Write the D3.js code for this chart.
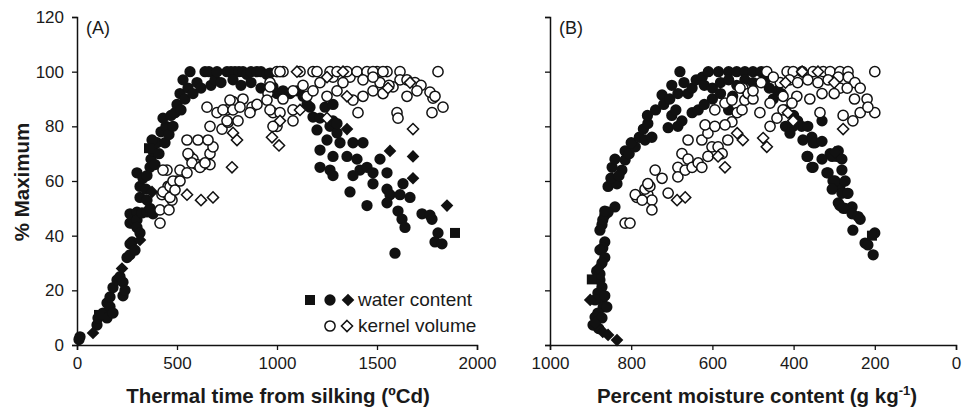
<!DOCTYPE html>
<html><head><meta charset="utf-8">
<script src="https://cdn.jsdelivr.net/npm/d3@7"></script>
<style>
html,body{margin:0;padding:0;background:#fff;}
svg{display:block;font-family:"Liberation Sans",Arial,sans-serif;}
</style></head>
<body><svg id="chart" width="965" height="408"></svg>
<script>
// ---------- tick labels ----------
const yTicks = [0, 20, 40, 60, 80, 100, 120];
const thermalTicks = [0, 500, 1000, 1500, 2000];
const moistureTicks = [1000, 800, 600, 400, 200, 0];
const panelLabels = ["(A)", "(B)"];
const legendLabels = ["water content", "kernel volume"];

// ---------- Panel A: thermal time (ºCd) vs % maximum ----------
const aWaterSquare = [[110,11],[360,72],[1890,41]];
const aWaterCircle = [
[15,3],[10,2],[100,7.3],[105,9.9],[130,11.7],[150,9.9],[150,15.4],[165,14],[165,17.6],[180,11.7],[180,21],[200,23.8],[215,25],[230,23],[230,18],[240,20],[250,32],[265,33],[265,37],[275,37.7],[290,34.7],[275,44.6],[265,44.6],[280,45.7],[265,48],[300,48.6],[300,45.7],[300,43],[315,41],[325,48.3],[350,48.7],[365,50],[380,48],[315,54],[350,53],
[300,63],[315,58],[330,61],[345,57],[365,65],[350,62],[370,68],[380,71],[390,66],[400,74],[410,70],[375,75],[420,78],[440,74],[445,80],[460,77],[430,83],[470,84],[480,80],[490,85],[500,88],[515,92],[520,86],[540,90],[555,94],[530,97],[565,100],[580,92],[600,96],[620,94],[640,100],[660,100],[670,95],[690,97],[700,100],[720,96],[750,100],[770,100],[790,100],[810,100],[830,100],[850,99],[870,100],[900,100],[920,100],[950,99],[780,97],[820,95],[870,96],[920,94],[960,93],[1000,92],
[965,99.5],[980,94.4],[1030,93],[1065,92],[1100,93],[1130,91],[1165,87],[1180,83.4],[1200,78.7],[1265,80],[1280,82],[1300,77.6],[1250,75],[1315,74],[1215,71.3],[1380,74],[1430,74],[1280,69],[1215,65],[1265,64],[1280,62],[1350,69],[1400,68],[1415,64],[1450,65],[1515,68],[1380,62],[1480,63],[1550,63],[1480,59],[1365,56],[1550,57],[1565,55],[1615,55],[1630,59],[1665,54],[1450,51],[1550,52],[1605,49],[1625,46],[1640,43],[1725,48],[1765,47.5],[1775,46],[1805,41],[1790,37.7],[1825,37],[1590,33.6],[1240,87],[1280,88],[1215,83],[1300,81],[1150,88]
];
const aWaterDiamond = [[80,4.4],[225,28],[315,38.4],[375,56],[1350,79],[1565,71],[1680,69],[1680,61],[1850,51]];
const aVolumeCircle = [
[415,44.6],[415,49.4],[460,49.4],[475,53],[425,55],[455,55],[455,58],[500,60],[430,56],[465,54],[465,58],[450,64],[430,64],[480,60],[490,56.7],[515,60],[515,64],[550,63],[565,69],[580,68],[600,66],[630,66],[665,66],[555,70],[575,66.6],[615,65],[640,66.6],[665,70],[680,72.5],[550,75],[605,75],[655,75],[665,80],[725,79],[755,81.5],[750,86],[780,89],[805,82],[830,90],[875,87],[900,88],[965,96],[955,92],[980,85],[1000,80],[650,87],[700,85],[730,86],[750,82],[765,89.6],[780,86],[815,87],[865,85],[950,89.6],[1000,100],[1030,100],[965,94.4],[980,80],[965,86],[1080,82],[1150,91],[1215,96],[1280,98],[1365,98],[1180,100],[1265,100],[1350,100],[1400,100],[1450,100],[1500,100],[1550,100],[1615,100],[1615,97],[1690,96],[1720,95],[1780,90.3],[1805,100],[1830,87],[1775,85],[1600,85],[1605,83],[1405,85],[1380,89.6],[1430,91],[1480,93],[1530,92],[1580,94.4],[1650,91],[1515,96],[1560,95],[1015,100],[1115,100],[1200,100],[1300,100],[1480,100],[1530,100],[1765,92.5],[1790,91],[1030,90],[1080,93],[1130,95],[1180,93],[1250,91],[1300,93],[1015,85],[1080,86],[1330,96],[1430,97],[1480,98],[1650,97],[1700,93]
];
const aVolumeDiamond = [[550,55],[620,53],[680,54],[775,65],[780,77.6],[800,75],[975,76],[1010,73],[1115,86],[1250,83],[1100,100],[1330,100],[1250,98],[1555,94],[1350,91],[1680,79],[1665,96],[1015,82]];

// ---------- Panel B: moisture content (g/kg) vs % maximum ----------
const bWaterSquare = [[897,24],[207,40]];
const bWaterCircle = [
[877,23.8],[872,21.2],[882,19],[872,16.5],[889,16.5],[869,13.9],[860,13.9],[882,11.7],[889,10.2],[872,9.9],[894,7.3],[880,6],[865,18],[885,27],[877,26],
[865,37.7],[870,35.5],[877,34.8],[865,32],[872,30],
[840,50.5],[857,48.6],[865,47.5],[870,45.7],[872,44],[877,42],[865,49],
[857,58],[835,59],[850,61],[847,65],[823,64],[830,62],[840,68],[815,67.7],[815,71],[805,70],[790,72.5],[800,74],[780,76],[766,75],[749,76],[770,79],[759,81],[760,84],[740,86],[724,91.5],[720,88],[709,79.5],[685,80],[675,82],[700,84],[690,86],[650,85],[635,86],[705,90],[685,92],[660,92],[700,95],[670,96],[650,94],[640,97],[680,100],[625,98],[620,95],[600,94],[610,100],[585,100],[580,96],[560,100],[540,100],[520,100],[500,100],[480,100],[560,97],[540,95],[520,97],[500,96],[470,97],[460,94],[440,93],[600,90],[620,88],[580,92],[550,91],[560,86],[450,90],[430,92],
[420,86],[400,84],[390,82],[380,80],[420,80],[401,80],[409,77.5],[377,75],[352,74],[367,69],[352,65],[310,70],[293,69],[318,63],[303,60],[286,58],[268,55.5],[330,82],[365,80],[355,76],[347,74],[330,74.5],[365,69],[355,65],[330,68],[305,69],[290,71],[281,68],[315,63],[298,60],[281,64],[273,60],[305,57],[281,55.5],[266,55.5],[290,52],[273,50],[256,50.5],[286,51],[278,50],[256,48],[241,47],[236,46],[254,42],[224,37.3],[217,36.6],[200,41],[204,33]
];
const bWaterDiamond = [[882,28],[901,16.5],[889,8],[870,4.8],[857,3.7],[835,1.8],[298,70.6]];
const bVolumeCircle = [
[815,44.6],[803,44.6],[786,54],[759,55],[749,53],[749,49.4],[709,55.6],[790,55],[766,57],[754,58],[773,53],[741,64],[724,61],[759,59],[685,65],[675,70],[660,68],[685,61.5],[667,64],[650,65],[635,66.6],[626,65],[660,75],[626,75],[611,77.5],[601,72.5],[618,80.5],[594,80],[611,69],[586,72.5],[562,75],[576,70],[594,86],[569,88.5],[552,89.6],[539,85],[527,86],[520,89.6],[525,94],[512,92],[552,81.6],[569,80.5],
[466,100],[416,100],[401,100],[379,100],[352,100],[327,100],[310,100],[286,100],[266,100],[200,100],[433,96],[410,97],[390,96],[365,97],[340,96],[315,97],[290,98],[265,98],[249,96],[286,94],[268,94],[236,94],[219,90],[278,84],[254,82],[236,85],[200,85],[217,87],[335,85],[500,90],[458,88.5],[426,91],[392,91],[360,90],[532,94],[500,93],[483,85],[458,80],[426,86],[404,88.5],[441,83],[480,96],[450,98],[300,92],[330,92],[250,90]
];
const bVolumeDiamond = [[687,53],[667,54],[586,69],[569,65],[539,77.5],[525,75],[475,75.7],[466,72.5],[414,85],[401,82],[278,79],[379,100],[340,100],[300,96],[420,96]];

// ---------- drawing ----------
const svg = d3.select("#chart");
const INK = "#111";
const diamondType = { draw(ctx, size) { const r = Math.sqrt(size / 2);
  ctx.moveTo(0, -r); ctx.lineTo(r, 0); ctx.lineTo(0, r); ctx.lineTo(-r, 0); ctx.closePath(); } };
const styles = {
  wSquare: { type: d3.symbolSquare, size: 100, fill: INK, stroke: "none", sw: 0 },
  wCircle: { type: d3.symbolCircle, size: 100, fill: INK, stroke: "none", sw: 0 },
  wDiamond: { type: diamondType, size: 80, fill: INK, stroke: "none", sw: 0 },
  vCircle: { type: d3.symbolCircle, size: 82, fill: "#fff", stroke: INK, sw: 1.5 },
  vDiamond: { type: diamondType, size: 62, fill: "#fff", stroke: INK, sw: 1.5 }
};

const y = d3.scaleLinear().domain([0, 120]).range([345, 17]);

function panel(xScale, xTicks, showYLabels, label, series) {
  const g = svg.append("g");
  const yAxis = d3.axisLeft(y).tickValues(yTicks).tickSize(5).tickPadding(8)
    .tickFormat(showYLabels ? d3.format("d") : () => "");
  const xAxis = d3.axisBottom(xScale).tickValues(xTicks).tickSize(5).tickPadding(7).tickFormat(d3.format("d"));
  const gy = g.append("g").attr("transform", `translate(${xScale.range()[0]},0)`).call(yAxis);
  const gx = g.append("g").attr("transform", `translate(0,${y(0)})`).call(xAxis);
  [gx, gy].forEach(a => {
    a.select(".domain").attr("stroke", INK).attr("stroke-width", 1.5);
    a.selectAll(".tick line").attr("stroke", INK).attr("stroke-width", 1.3);
    a.selectAll(".tick text").attr("fill", "#1a1a1a").style("font-size", "17px")
      .style("font-family", '"Liberation Sans",Arial,sans-serif');
  });
  g.append("text").attr("x", xScale.range()[0] + 9).attr("y", 34).text(label)
    .attr("fill", "#1a1a1a").style("font-size", "18px");
  series.forEach(([data, st]) => {
    const s = styles[st];
    const sym = d3.symbol().type(s.type).size(s.size);
    g.append("g").selectAll("path").data(data).join("path")
      .attr("d", sym)
      .attr("transform", d => `translate(${xScale(d[0])},${y(d[1])})`)
      .attr("fill", s.fill).attr("stroke", s.stroke).attr("stroke-width", s.sw);
  });
  return g;
}

const xA = d3.scaleLinear().domain([0, 2000]).range([77, 477]);
const xB = d3.scaleLinear().domain([1000, 0]).range([550, 956]);

panel(xA, thermalTicks, true, panelLabels[0], [
  [aWaterCircle, "wCircle"], [aWaterDiamond, "wDiamond"], [aWaterSquare, "wSquare"],
  [aVolumeCircle, "vCircle"], [aVolumeDiamond, "vDiamond"]
]);
panel(xB, moistureTicks, false, panelLabels[1], [
  [bWaterCircle, "wCircle"], [bWaterDiamond, "wDiamond"], [bWaterSquare, "wSquare"],
  [bVolumeCircle, "vCircle"], [bVolumeDiamond, "vDiamond"]
]);

// axis titles
svg.append("text").attr("transform", "translate(29,182) rotate(-90)").attr("text-anchor", "middle")
  .style("font-size", "20.5px").style("font-weight", "bold").attr("fill", "#1a1a1a").text("% Maximum");
svg.append("text").attr("x", 278).attr("y", 403).attr("text-anchor", "middle")
  .style("font-size", "20.5px").style("font-weight", "bold").attr("fill", "#1a1a1a").text("Thermal time from silking (ºCd)");
const tB = svg.append("text").attr("x", 757).attr("y", 403).attr("text-anchor", "middle")
  .style("font-size", "20.5px").style("font-weight", "bold").attr("fill", "#1a1a1a");
tB.append("tspan").text("Percent moisture content (g kg");
tB.append("tspan").attr("dy", -8).style("font-size", "13px").text("-1");
tB.append("tspan").attr("dy", 8).text(")");

// legend
const leg = svg.append("g");
const legRows = [
  { yy: 300, marks: [["wSquare", 310], ["wCircle", 330], ["wDiamond", 348]], text: legendLabels[0] },
  { yy: 326, marks: [["vCircle", 330], ["vDiamond", 347]], text: legendLabels[1] }
];
legRows.forEach(r => {
  r.marks.forEach(([st, xx]) => {
    const s = styles[st];
    leg.append("path").attr("d", d3.symbol().type(s.type).size(s.size)())
      .attr("transform", `translate(${xx},${r.yy})`)
      .attr("fill", s.fill).attr("stroke", s.stroke).attr("stroke-width", s.sw);
  });
  leg.append("text").attr("x", 358).attr("y", r.yy + 6).text(r.text)
    .attr("fill", "#1a1a1a").style("font-size", "19px");
});
</script></body></html>
